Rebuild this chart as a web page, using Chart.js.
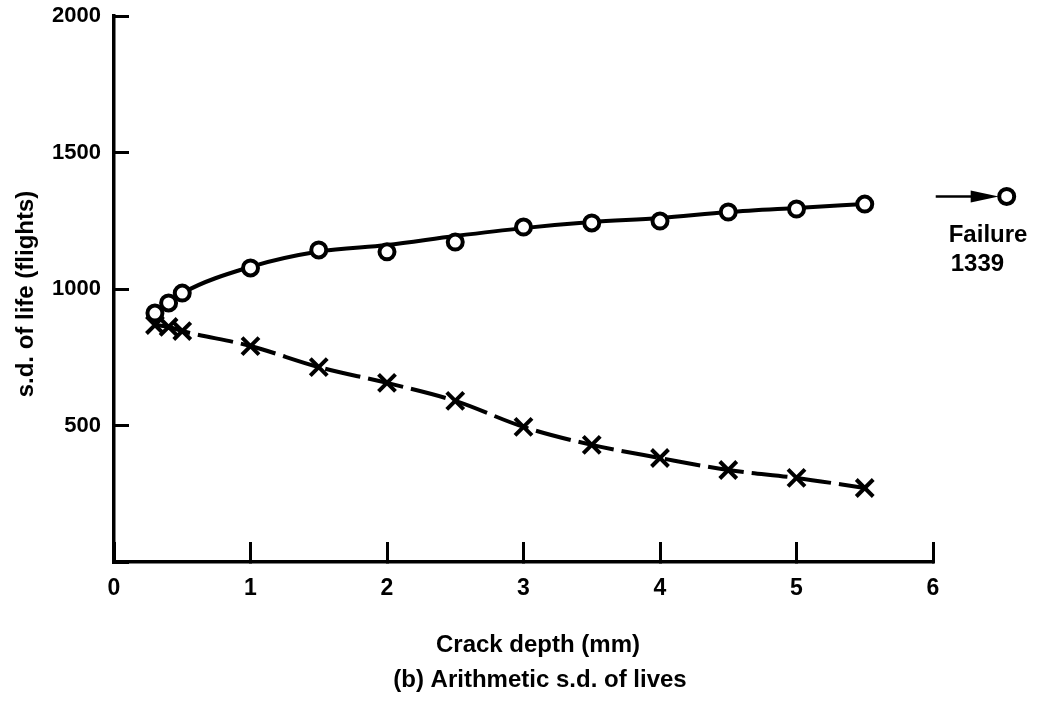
<!DOCTYPE html>
<html><head><meta charset="utf-8">
<script src="https://cdn.jsdelivr.net/npm/chart.js@4/dist/chart.umd.min.js"></script>
<style>html,body{margin:0;padding:0;background:#fff}canvas{display:block}</style>
</head><body>
<canvas id="c" width="1038" height="705"></canvas>
<script>
// ---- data ----
const crackDepth = [0.3, 0.4, 0.5, 1.0, 1.5, 2.0, 2.5, 3.0, 3.5, 4.0, 4.5, 5.0, 5.5];
const sdCircles = [912, 949, 985, 1077, 1143, 1136, 1172, 1227, 1242, 1249, 1282, 1293, 1311];
const sdCircleCurve = [912, 949, 985, 1081, 1137, 1161, 1194, 1223, 1245, 1260, 1282, 1297, 1311];
const sdCrosses = [868, 861, 846, 791, 714, 656, 590, 495, 429, 381, 337, 308, 271];
const xTickLabels = ['0', '1', '2', '3', '4', '5', '6'];
const yTickLabels = ['500', '1000', '1500', '2000'];
const failureDepth = 6.54;
const failureLife = 1339;
const arrowStartDepth = 6.02;
const failureText = ['Failure', '1339'];
const xTitle = 'Crack depth (mm)';
const yTitle = 's.d. of life (flights)';
const caption = '(b) Arithmetic s.d. of lives';

const FONT = '"Liberation Sans", Arial, sans-serif';
Chart.defaults.font.family = FONT;
Chart.defaults.font.weight = 'bold';
Chart.defaults.color = '#000';

const pts = (ys) => crackDepth.map((x, i) => ({x, y: ys[i]}));

const textPlugin = {
  id: 'texts',
  afterDatasetsDraw(chart) {
    const {ctx, scales: {x, y}} = chart;
    const px = x.getPixelForValue(failureDepth);
    const py = y.getPixelForValue(failureLife);
    const ax = x.getPixelForValue(arrowStartDepth);
    ctx.save();
    ctx.strokeStyle = '#000';
    ctx.fillStyle = '#000';
    ctx.lineWidth = 2.5;
    ctx.beginPath();
    ctx.moveTo(ax, py);
    ctx.lineTo(px - 22, py);
    ctx.stroke();
    ctx.beginPath();
    ctx.moveTo(px - 36, py - 6);
    ctx.lineTo(px - 8, py);
    ctx.lineTo(px - 36, py + 6);
    ctx.closePath();
    ctx.fill();
    ctx.beginPath();
    ctx.arc(px, py, 7.5, 0, Math.PI * 2);
    ctx.fillStyle = '#fff';
    ctx.fill();
    ctx.lineWidth = 4;
    ctx.stroke();
    ctx.fillStyle = '#000';
    ctx.font = 'bold 24px ' + FONT;
    ctx.textAlign = 'left';
    ctx.textBaseline = 'alphabetic';
    ctx.fillText(failureText[0], px - 58, py + 46);
    ctx.fillText(failureText[1], px - 56, py + 75);
    ctx.textAlign = 'center';
    ctx.fillText(xTitle, 538, 652);
    ctx.fillText(caption, 540, 687);
    ctx.translate(33, 294);
    ctx.rotate(-Math.PI / 2);
    ctx.fillText(yTitle, 0, 0);
    ctx.restore();
  }
};

new Chart(document.getElementById('c'), {
  type: 'line',
  data: {
    datasets: [
      {
        data: pts(sdCircleCurve),
        borderColor: '#000', borderWidth: 4, pointRadius: 0,
        cubicInterpolationMode: 'monotone', fill: false, order: 3
      },
      {
        data: pts(sdCircles), showLine: false,
        pointStyle: 'circle', pointRadius: 7.5, pointBorderWidth: 4,
        pointBorderColor: '#000', pointBackgroundColor: '#fff', order: 0
      },
      {
        data: pts(sdCrosses),
        borderColor: '#000', borderWidth: 4, borderDash: [36, 8],
        cubicInterpolationMode: 'monotone', fill: false,
        pointStyle: 'crossRot', pointRadius: 12, pointBorderWidth: 4,
        pointBorderColor: '#000', pointBackgroundColor: '#000', order: 1
      }
    ]
  },
  options: {
    responsive: false,
    animation: false,
    devicePixelRatio: 1,
    layout: {padding: {top: 16, right: 105, bottom: 0, left: 0}},
    plugins: {legend: {display: false}, tooltip: {enabled: false}, title: {display: false}},
    scales: {
      x: {
        type: 'linear', min: 0, max: 6,
        afterFit: (s) => { s.height = 143; s.paddingLeft = 0; s.paddingRight = 0; },
        border: {display: true, color: '#000', width: 3.5},
        grid: {drawOnChartArea: false, drawTicks: true, tickLength: -20, tickColor: '#000', tickWidth: 3, color: '#000'},
        ticks: {
          stepSize: 1, autoSkip: false, padding: 33, maxRotation: 0,
          font: {size: 23, weight: 'bold', family: FONT}, color: '#000',
          callback: (v) => xTickLabels.includes(String(v)) ? String(v) : ''
        }
      },
      y: {
        type: 'linear', min: 0, max: 2000,
        afterFit: (s) => { s.width = 114; s.paddingTop = 0; s.paddingBottom = 0; },
        border: {display: true, color: '#000', width: 3.5},
        grid: {drawOnChartArea: false, drawTicks: true, tickLength: -15, tickColor: '#000', tickWidth: 3, color: '#000'},
        ticks: {
          stepSize: 500, autoSkip: false, padding: 28,
          font: {size: 22, weight: 'bold', family: FONT}, color: '#000',
          callback: (v) => yTickLabels.includes(String(v)) ? String(v) : ''
        }
      }
    }
  },
  plugins: [textPlugin]
});
</script>
</body></html>
